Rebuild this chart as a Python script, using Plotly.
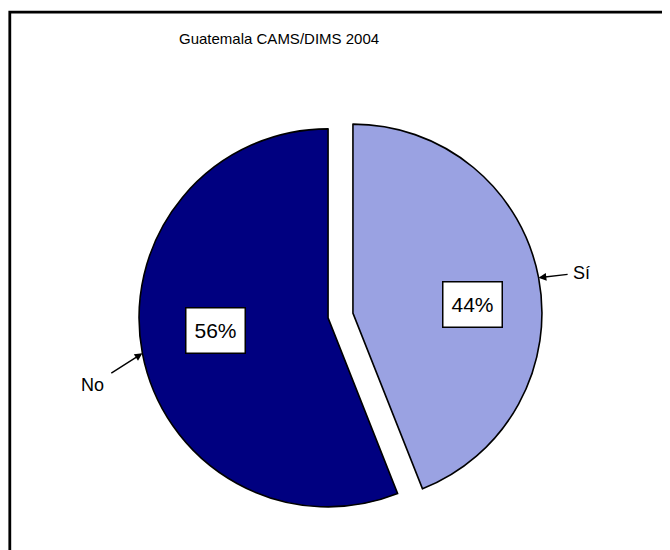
import math
import plotly.graph_objects as go

# ---- data ----
labels = ["Sí", "No"]
values = [44, 56]
pct_text = ["44%", "56%"]
colors = ["#9AA2E2", "#000080"]
chart_title = "Guatemala CAMS/DIMS 2004"

W, H = 670, 550
OFF = 8  # page body margin offset
PULL = 0.067
R = 189.0
CX, CY = 340.5, 315.5  # pie centre in (page) pixels
half = R * (1 + PULL)
FONT = "Liberation Sans, Arial"

def px(x):
    return (x - OFF) / W

def py(y):
    return 1 - (y - OFF) / H

fig = go.Figure(go.Pie(
    labels=labels, values=values, sort=False, direction="clockwise", rotation=0,
    pull=[PULL, PULL], textinfo="none", hoverinfo="label+percent",
    marker=dict(colors=colors, line=dict(color="black", width=1.6)),
    domain=dict(x=[px(CX - half), px(CX + half)], y=[py(CY + half), py(CY - half)]),
    showlegend=False,
))

# geometry derived from the values
total = sum(values)
annotations = []
start = 0.0
label_nudge = [(4, 13), (3, -9)]        # style offsets for percent boxes (px)
name_offset = [(43, -5), (-50, 32)]     # text offset from arrow point (px)
start_gap = [4, 7]
for i, v in enumerate(values):
    frac = v / total
    mid = (start + frac / 2) * 2 * math.pi  # clockwise from top
    start += frac
    ox = CX + PULL * R * math.sin(mid)
    oy = CY - PULL * R * math.cos(mid)
    # percent box
    lx = ox + 0.62 * R * math.sin(mid) + label_nudge[i][0]
    ly = oy - 0.62 * R * math.cos(mid) + label_nudge[i][1]
    annotations.append(dict(
        x=px(lx), y=py(ly), xref="paper", yref="paper", text=pct_text[i],
        xanchor="center", yanchor="middle",
        showarrow=False, bgcolor="white", bordercolor="black", borderwidth=1.5,
        borderpad=1, width=56, height=42,
        font=dict(size=21, color="black", family=FONT),
    ))
    # category label with arrow to the edge
    ex = ox + R * math.sin(mid)
    ey = oy - R * math.cos(mid)
    annotations.append(dict(
        x=px(ex), y=py(ey), xref="paper", yref="paper", text=labels[i],
        showarrow=True, ax=name_offset[i][0], ay=name_offset[i][1],
        startstandoff=start_gap[i],
        arrowhead=2, arrowsize=1.1, arrowwidth=1.4, arrowcolor="black",
        font=dict(size=18, color="black", family=FONT),
    ))

annotations.append(dict(
    x=px(279), y=py(38), xref="paper", yref="paper", text=chart_title,
    xanchor="center", yanchor="middle",
    showarrow=False, font=dict(size=15, color="black", family=FONT),
))

fig.update_layout(
    width=W, height=H, margin=dict(l=0, r=0, t=0, b=0),
    paper_bgcolor="white", plot_bgcolor="white",
    annotations=annotations,
    shapes=[dict(type="rect", xref="paper", yref="paper",
                 x0=px(9.8), x1=1.05, y0=-0.05, y1=py(12.2),
                 line=dict(color="black", width=2.8), fillcolor="rgba(0,0,0,0)")],
)

fig.write_html("out.html")
